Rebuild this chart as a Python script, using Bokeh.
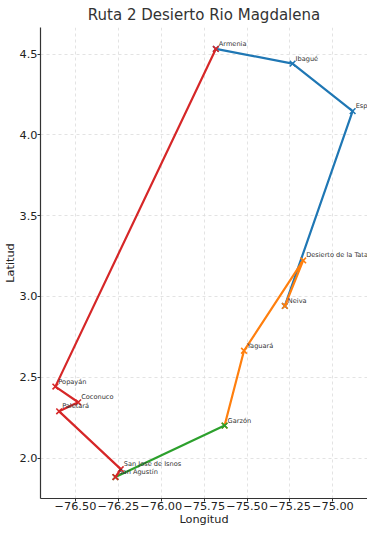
from bokeh.plotting import figure
from bokeh.models import FixedTicker, Range1d, ColumnDataSource, LabelSet
from bokeh.core.properties import value
from bokeh.embed import file_html
from bokeh.resources import INLINE

# Places (longitude, latitude)
city = ["Armenia", "Ibagué", "Espinal", "Neiva", "Desierto de la Tatacoa",
        "Yaguará", "Garzón", "San Agustín", "San Jose de Isnos",
        "Paletará", "Coconuco", "Popayán"]
lon = [-75.682, -75.235, -74.885, -75.280, -75.173,
       -75.518, -75.631, -76.267, -76.236,
       -76.595, -76.484, -76.617]
lat = [4.532, 4.441, 4.147, 2.941, 3.223,
       2.664, 2.201, 1.882, 1.931,
       2.289, 2.345, 2.442]

# Route legs (drawn in this order)
leg_blue = ["Armenia", "Ibagué", "Espinal", "Neiva"]
leg_orange = ["Neiva", "Desierto de la Tatacoa", "Yaguará", "Garzón"]
leg_green = ["Garzón", "San Agustín"]
leg_red = ["San Agustín", "San Jose de Isnos", "Paletará", "Coconuco", "Popayán", "Armenia"]

x_ticks = [-76.50, -76.25, -76.00, -75.75, -75.50, -75.25, -75.00]
y_ticks = [2.0, 2.5, 3.0, 3.5, 4.0, 4.5]

legs = [(leg_blue, "#1f77b4"), (leg_orange, "#ff7f0e"),
        (leg_green, "#2ca02c"), (leg_red, "#d62728")]

pos = {c: (x, y) for c, x, y in zip(city, lon, lat)}

xmin, xmax = min(lon), max(lon)
ymin, ymax = min(lat), max(lat)
dx = (xmax - xmin) * 0.05
dy = (ymax - ymin) * 0.05

FONT = "DejaVu Sans"

p = figure(width=367, height=528, output_backend="svg", toolbar_location=None,
           x_range=Range1d(xmin - dx, xmax + dx), y_range=Range1d(ymin - dy, ymax + dy),
           title="Ruta 2 Desierto Rio Magdalena",
           min_border_left=0, min_border_right=0, min_border_top=0, min_border_bottom=0)

p.title.align = "center"
p.title.text_font = FONT
p.title.text_font_size = "15px"
p.title.text_font_style = "normal"
p.title.text_color = "#333333"
p.title.standoff = 7

p.outline_line_color = None
p.background_fill_color = "white"

p.xaxis.axis_label = "Longitud"
p.yaxis.axis_label = "Latitud"
for ax in (p.xaxis, p.yaxis):
    ax.axis_label_text_font = FONT
    ax.axis_label_text_font_size = "11.3px"
    ax.axis_label_text_font_style = "normal"
    ax.axis_label_text_color = "#222222"
    ax.axis_label_text_line_height = 1.0
    ax.major_label_text_font = FONT
    ax.major_label_text_font_size = "11.3px"
    ax.major_label_text_color = "#222222"
    ax.major_label_text_line_height = 1.0
    ax.axis_line_color = "#333333"
    ax.axis_line_width = 1.2
    ax.major_tick_line_color = "#333333"
    ax.major_tick_out = 3
    ax.major_tick_in = 0
    ax.minor_tick_line_color = None
    ax.major_label_standoff = 0
    ax.axis_label_standoff = 0

p.xaxis.ticker = FixedTicker(ticks=x_ticks)
p.yaxis.ticker = FixedTicker(ticks=y_ticks)
p.xaxis.major_label_overrides = {t: ("%.2f" % t).replace("-", "\u2212") for t in x_ticks}
p.yaxis.major_label_overrides = {t: "%.1f" % t for t in y_ticks}

p.grid.grid_line_color = "#dcdcdc"
p.grid.grid_line_dash = "3 3"
p.grid.grid_line_width = 0.8
p.xgrid.ticker = FixedTicker(ticks=x_ticks)
p.ygrid.ticker = FixedTicker(ticks=y_ticks)

for leg, color in legs:
    src = ColumnDataSource(dict(x=[pos[c][0] for c in leg],
                                y=[pos[c][1] for c in leg]))
    p.line("x", "y", source=src, line_color=color, line_width=2.2)
    p.scatter("x", "y", source=src, marker="x", size=8, line_color=color, line_width=1.6)

label_src = ColumnDataSource(dict(x=lon, y=lat, name=city))
p.add_layout(LabelSet(x="x", y="y", text="name", source=label_src,
                      x_offset=3, y_offset=3,
                      text_font=value(FONT), text_font_size="6.6px", text_color="#333333",
                      text_baseline="alphabetic", text_align="left"))

open("out.html", "w").write(file_html(p, INLINE))
